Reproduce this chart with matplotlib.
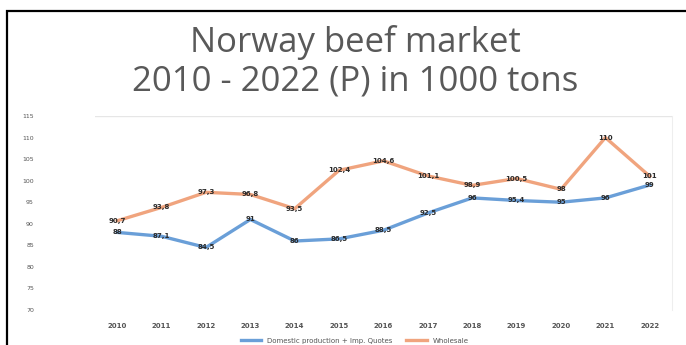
import matplotlib.pyplot as plt
from matplotlib.patches import Rectangle

years = ['2010', '2011', '2012', '2013', '2014', '2015', '2016',
         '2017', '2018', '2019', '2020', '2021', '2022']
domestic = [88, 87.1, 84.5, 91, 86, 86.5, 88.5, 92.5, 96, 95.4, 95, 96, 99]
wholesale = [90.7, 93.8, 97.3, 96.8, 93.5, 102.4, 104.6, 101.1, 98.9, 100.5, 98, 110, 101]
y_ticks = [70, 75, 80, 85, 90, 95, 100, 105, 110, 115]

blue = '#6A9FD8'
orange = '#F0A47E'


def fmt(v):
    s = ('%g' % v)
    return s.replace('.', ',')


fig = plt.figure(figsize=(6.86, 3.45), dpi=100)
fig.patch.set_facecolor('white')

# black frame of the screenshot
fig.add_artist(Rectangle((7 / 686, -0.05), 1.0, (345 - 11) / 345 + 0.05,
                         transform=fig.transFigure, fill=False,
                         edgecolor='black', linewidth=1.6))

fig.text(0.518, 1 - 52 / 345, 'Norway beef market', ha='center', va='baseline',
         fontsize=25, color='#595959', family='Open Sans')
fig.text(0.518, 1 - 90 / 345, '2010 - 2022 (P) in 1000 tons', ha='center', va='baseline',
         fontsize=25, color='#595959', family='Open Sans')

ax = fig.add_axes([95 / 686, 1 - 310 / 345, (672 - 95) / 686, (310 - 116) / 345])
x = list(range(len(years)))
ax.plot(x, domestic, color=blue, linewidth=2.4, label='Domestic production + Imp. Quotes')
ax.plot(x, wholesale, color=orange, linewidth=2.4, label='Wholesale')

for i in x:
    ax.text(i, domestic[i], fmt(domestic[i]), ha='center', va='center',
            fontsize=5, fontweight='bold', color='#2b2b2b')
    ax.text(i, wholesale[i], fmt(wholesale[i]), ha='center', va='center',
            fontsize=5, fontweight='bold', color='#2b2b2b')

ax.set_xlim(-0.5, len(years) - 0.5)
ax.set_ylim(70, 115)
ax.set_yticks(y_ticks)
ax.set_xticks(x)
ax.set_xticklabels(years)
ax.tick_params(axis='both', length=0, labelsize=4.5, labelcolor='#555555')
ax.tick_params(axis='y', pad=44)
ax.tick_params(axis='x', pad=9, labelsize=5)
for lbl in ax.get_xticklabels():
    lbl.set_fontweight('bold')
ax.axhline(115, color='#E6E6E6', linewidth=1.0)
for s in ['left', 'bottom', 'top']:
    ax.spines[s].set_visible(False)
ax.spines['right'].set_color('#EEEEEE')

ax.legend(loc='upper center', bbox_to_anchor=(0.45, -0.11), ncol=2, frameon=False,
          fontsize=5, handlelength=3, columnspacing=2, labelcolor='#555555')

plt.savefig('out.png', dpi=100)
